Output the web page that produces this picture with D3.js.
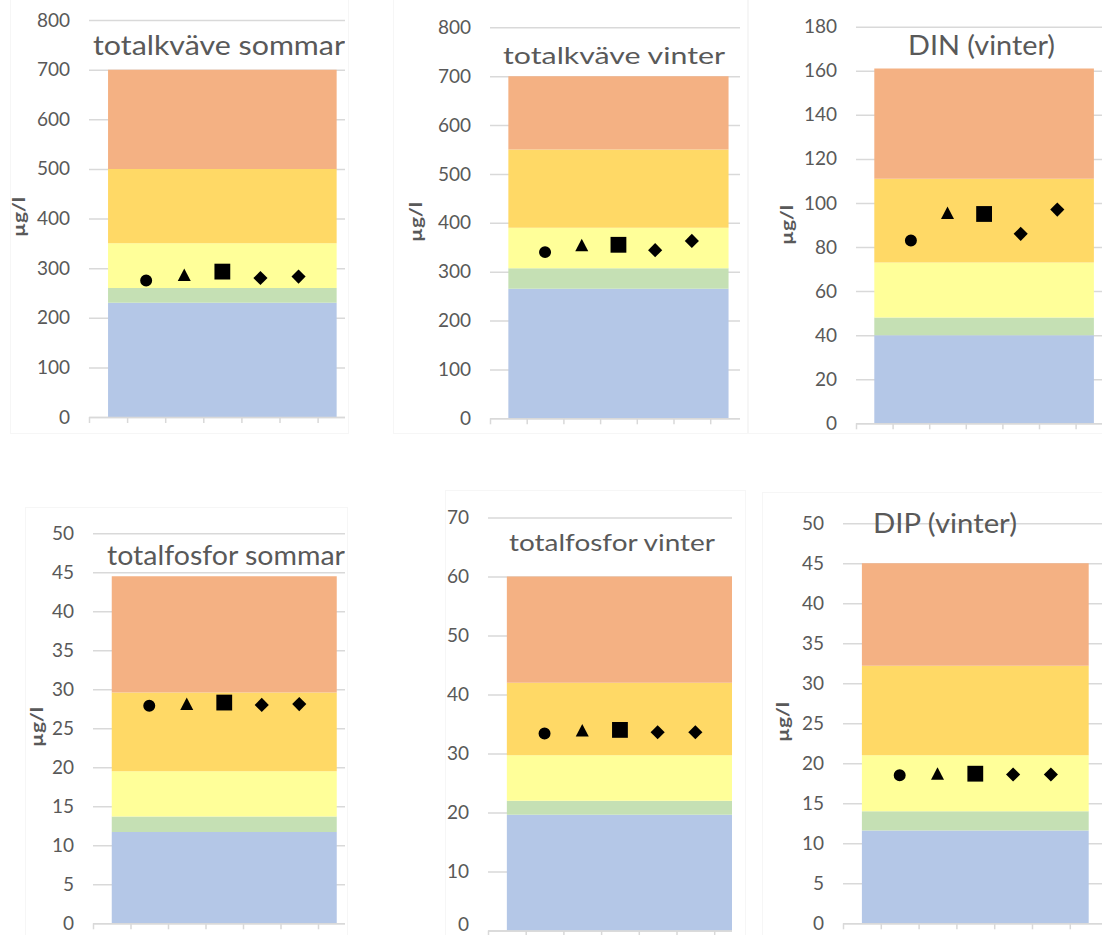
<!DOCTYPE html>
<html>
<head>
<meta charset="utf-8">
<script src="https://cdn.jsdelivr.net/npm/d3@7"></script>
<style>
  body { margin: 0; background: #ffffff; }
  svg { display: block; font-family: Lato, "Open Sans", sans-serif; }
</style>
</head>
<body>
<div id="chart"></div>
<script>
// x categories (unlabelled in the original), markers sit in slots 2-6
var categories = ["1", "2", "3", "4", "5", "6", "7"];
var stations = ["2", "3", "4", "5", "6"];
var markers = ["circle", "triangle", "square", "diamond", "diamond"];

// status classes, bottom to top
var classNames = ["hög", "god", "måttlig", "otillfredsställande", "dålig"];
var classColors = ["#B4C7E7", "#C5E0B4", "#FFFF99", "#FFD966", "#F4B183"];

// upper class limits (µg/l)
var limitsTotNSommar = [230, 260, 350, 500, 700];
var limitsTotNVinter = [265, 307, 390, 550, 700];
var limitsDINVinter = [40, 48, 73, 111, 161];
var limitsTotPSommar = [11.7, 13.7, 19.5, 29.6, 44.5];
var limitsTotPVinter = [19.6, 22, 29.7, 42, 60];
var limitsDIPVinter = [11.6, 14, 21, 32.2, 45];

// measured values per station
var totNSommar = [275, 286, 293, 280, 283];
var totNVinter = [340, 354, 355, 344, 363];
var dinVinter = [83, 95.5, 95, 86, 97];
var totPSommar = [27.9, 28.1, 28.3, 28.0, 28.1];
var totPVinter = [33.4, 33.9, 34.0, 33.6, 33.6];
var dipVinter = [18.5, 18.7, 18.7, 18.6, 18.6];

// y axis ticks
var ticksTotN = [0, 100, 200, 300, 400, 500, 600, 700, 800];
var ticksDIN = [0, 20, 40, 60, 80, 100, 120, 140, 160, 180];
var ticksTotPSommar = [0, 5, 10, 15, 20, 25, 30, 35, 40, 45, 50];
var ticksTotPVinter = [0, 10, 20, 30, 40, 50, 60, 70];
var ticksDIP = [0, 5, 10, 15, 20, 25, 30, 35, 40, 45, 50];

var svg = d3
  .select("#chart")
  .append("svg")
  .attr("width", 1102)
  .attr("height", 935);

function classPanel(config) {
  /*
  config = {
    id:        clip id
    title:     panel title
    limits:    upper limits of the classes
    values:    marker values per station
    ticks:     y tick values
    y_label:   show the µg/l label or not
    clip:      [x0, y0, x1, y1] visible part of the panel
    frame:     [x0, y0, x1, y1] faint chart area border
    left:      x of the plot area
    step:      category width
    y0, y1:    pixel of first and last tick
    title_pos: [cx, baseline, width, size]
    label_pos: [x, y]
  }
  */
  var defaults = {
    y_label: true,
    grid_color: "#d9d9d9",
    text_color: "#595959",
  };
  config = Object.assign({}, defaults, config);
  var limits = config.limits,
    values = config.values,
    ticks = config.ticks,
    clip = config.clip,
    left = config.left,
    right = left + config.step * categories.length;

  // faint chart area border
  var f = config.frame;
  svg
    .append("rect")
    .attr("x", f[0] + 0.5)
    .attr("y", f[1] + 0.5)
    .attr("width", f[2] - f[0])
    .attr("height", f[3] - f[1])
    .attr("fill", "none")
    .attr("stroke", "#f6f6f6")
    .attr("stroke-width", 1);

  svg
    .append("clipPath")
    .attr("id", config.id)
    .append("rect")
    .attr("x", clip[0])
    .attr("y", clip[1])
    .attr("width", clip[2] - clip[0])
    .attr("height", clip[3] - clip[1]);

  var g = svg.append("g").attr("clip-path", "url(#" + config.id + ")");

  // scales
  var x = d3.scaleBand().domain(categories).range([left, right]);
  var xEdge = d3
    .scaleLinear()
    .domain([0, categories.length])
    .range([left, right]);
  var y = d3
    .scaleLinear()
    .domain([0, d3.max(ticks)])
    .range([config.y0, config.y1]);

  // gridlines + tick labels
  var yAxis = g
    .append("g")
    .attr("transform", "translate(" + left + ",0)")
    .call(
      d3
        .axisLeft(y)
        .tickValues(ticks)
        .tickSizeInner(-(right - left))
        .tickSizeOuter(0)
        .tickPadding(19)
    );
  yAxis.select(".domain").remove();
  yAxis
    .selectAll(".tick line")
    .attr("stroke", config.grid_color)
    .attr("stroke-width", 1.5);
  yAxis
    .selectAll(".tick text")
    .attr("fill", config.text_color)
    .attr("font-size", 19)
    .attr("font-family", "Lato, sans-serif")
    // keep a label at the very bottom inside the page
    .attr("y", function (d) {
      var over = y(d) + 11 - 935;
      return over > 0 ? -over : 0;
    });

  // stacked class bands (area over category centres)
  var rows = categories.map(function (c) {
    var row = { cat: c };
    classNames.forEach(function (name, i) {
      row[name] = limits[i] - (i ? limits[i - 1] : 0);
    });
    return row;
  });
  var series = d3.stack().keys(classNames)(rows);
  var area = d3
    .area()
    .x(function (d) {
      return x(d.data.cat) + x.bandwidth() / 2;
    })
    .y0(function (d) {
      return y(d[0]);
    })
    .y1(function (d) {
      return y(d[1]);
    });
  g.append("g")
    .selectAll("path")
    .data(series)
    .enter()
    .append("path")
    .attr("fill", function (d, i) {
      return classColors[i];
    })
    .attr("d", area);

  // x axis with ticks between categories
  var xAxis = g
    .append("g")
    .attr("transform", "translate(0," + y(0) + ")")
    .call(
      d3
        .axisBottom(xEdge)
        .tickValues(d3.range(categories.length + 1))
        .tickFormat("")
        .tickSizeInner(6)
        .tickSizeOuter(0)
    );
  xAxis
    .selectAll("path, line")
    .attr("stroke", config.grid_color)
    .attr("stroke-width", 1.5);

  // markers
  var symbols = {
    circle: d3.symbol().type(d3.symbolCircle).size(113)(),
    square: d3.symbol().type(d3.symbolSquare).size(250)(),
    diamond: d3.symbol().type(d3.symbolSquare).size(100)(),
    triangle: "M0,-6.5L6.5,6L-6.5,6Z",
  };
  g.append("g")
    .selectAll("path")
    .data(values)
    .enter()
    .append("path")
    .attr("d", function (d, i) {
      return symbols[markers[i]];
    })
    .attr("fill", "#000000")
    .attr("transform", function (d, i) {
      var tr =
        "translate(" + (x(stations[i]) + x.bandwidth() / 2) + "," + y(d) + ")";
      return markers[i] === "diamond" ? tr + " rotate(45)" : tr;
    });

  // title
  var tp = config.title_pos;
  g.append("text")
    .attr("x", tp[0])
    .attr("y", tp[1])
    .attr("text-anchor", "middle")
    .attr("font-size", tp[3])
    .attr("fill", config.text_color)
    .attr("textLength", tp[2])
    .attr("lengthAdjust", "spacingAndGlyphs")
    .text(config.title);

  // y axis name
  if (config.y_label) {
    svg
      .append("text")
      .attr(
        "transform",
        "translate(" + config.label_pos[0] + "," + config.label_pos[1] + ") rotate(-90)"
      )
      .attr("text-anchor", "middle")
      .attr("dy", "0.35em")
      .attr("font-size", 17)
      .attr("font-weight", "bold")
      .attr("fill", config.text_color)
      .attr("textLength", 40)
      .attr("lengthAdjust", "spacingAndGlyphs")
      .text("µg/l");
  }
}

classPanel({
  id: "p1",
  title: "totalkväve sommar",
  limits: limitsTotNSommar,
  values: totNSommar,
  ticks: ticksTotN,
  clip: [0, 0, 345, 440],
  frame: [10, -2, 348, 433],
  left: 89,
  step: 38.1,
  y0: 417,
  y1: 20,
  title_pos: [219, 55, 252, 27],
  label_pos: [19, 217],
});

classPanel({
  id: "p2",
  title: "totalkväve vinter",
  limits: limitsTotNVinter,
  values: totNVinter,
  ticks: ticksTotN,
  clip: [380, 0, 740, 440],
  frame: [393, -2, 748, 433],
  left: 490,
  step: 36.7,
  y0: 418.3,
  y1: 27.3,
  title_pos: [614, 64, 222, 24],
  label_pos: [416, 222],
});

classPanel({
  id: "p3",
  title: "DIN (vinter)",
  limits: limitsDINVinter,
  values: dinVinter,
  ticks: ticksDIN,
  clip: [747, 0, 1102, 440],
  frame: [747, -2, 1104, 433],
  left: 856,
  step: 36.6,
  y0: 423.3,
  y1: 26.7,
  title_pos: [981.5, 55, 147, 27],
  label_pos: [787, 225],
});

classPanel({
  id: "p4",
  title: "totalfosfor sommar",
  limits: limitsTotPSommar,
  values: totPSommar,
  ticks: ticksTotPSommar,
  clip: [0, 480, 345, 935],
  frame: [25, 507, 347, 937],
  left: 93,
  step: 37.5,
  y0: 923.3,
  y1: 533.3,
  title_pos: [226, 565, 238, 26],
  label_pos: [37, 727],
});

classPanel({
  id: "p5",
  title: "totalfosfor vinter",
  limits: limitsTotPVinter,
  values: totPVinter,
  ticks: ticksTotPVinter,
  y_label: false,
  clip: [440, 480, 732, 935],
  frame: [445, 490, 745, 937],
  left: 488,
  step: 37.7,
  y0: 930.5,
  y1: 517.5,
  title_pos: [612, 551, 206, 24],
});

classPanel({
  id: "p6",
  title: "DIP (vinter)",
  limits: limitsDIPVinter,
  values: dipVinter,
  ticks: ticksDIP,
  clip: [755, 480, 1102, 935],
  frame: [762, 492, 1104, 937],
  left: 843,
  step: 37.8,
  y0: 923.3,
  y1: 523.3,
  title_pos: [945, 533, 144, 27],
  label_pos: [783, 722],
});
</script>
</body>
</html>
